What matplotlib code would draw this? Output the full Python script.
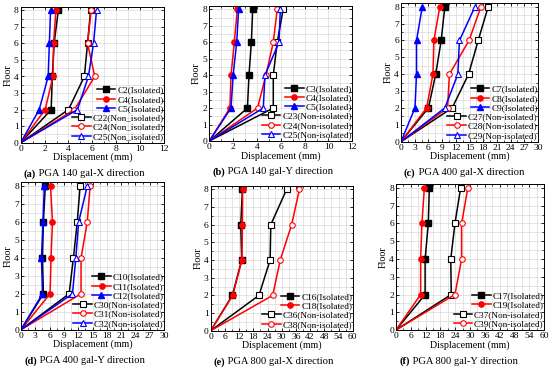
import matplotlib
matplotlib.use('Agg')
import matplotlib.pyplot as plt
from matplotlib.ticker import MultipleLocator

plt.rcParams['font.family'] = ['Liberation Serif', 'DejaVu Serif']

floors = [0, 2, 4, 6, 8]

# (a) PGA 140 gal-X
a_C2 = [0, 2.55, 2.65, 2.8, 3.15]
a_C4 = [0, 2.05, 2.7, 2.75, 2.95]
a_C5 = [0, 1.55, 2.3, 2.4, 2.5]
a_C22 = [0, 4.0, 5.33, 5.6, 5.85]
a_C24 = [0, 4.5, 6.2, 5.6, 5.9]
a_C25 = [0, 4.75, 5.67, 6.1, 6.35]

# (b) PGA 140 gal-Y
b_C3 = [0, 3.2, 3.33, 3.53, 3.64]
b_C4 = [0, 1.73, 1.82, 2.1, 2.35]
b_C5 = [0, 1.82, 2.0, 2.3, 2.46]
b_C23 = [0, 5.37, 5.37, 5.7, 6.2]
b_C24 = [0, 4.05, 4.75, 5.37, 5.7]
b_C25 = [0, 4.53, 4.67, 5.85, 5.96]

# (c) PGA 400 gal-X
c_C7 = [0, 6.0, 7.6, 8.8, 9.6]
c_C8 = [0, 5.6, 7.0, 7.2, 8.5]
c_C9 = [0, 3.06, 3.4, 3.4, 4.66]
c_C27 = [0, 11.2, 14.8, 16.9, 19.1]
c_C28 = [0, 10.2, 10.6, 14.9, 17.5]
c_C29 = [0, 9.6, 12.45, 12.8, 16.2]

# (d) PGA 400 gal-Y
d_C10 = [0, 4.7, 4.5, 4.7, 5.1]
d_C11 = [0, 6.1, 6.3, 6.6, 6.2]
d_C12 = [0, 4.5, 4.3, 4.6, 4.9]
d_C30 = [0, 10.1, 11.0, 11.8, 12.4]
d_C31 = [0, 12.6, 12.6, 13.9, 14.5]
d_C32 = [0, 10.8, 11.5, 12.1, 13.9]

# (e) PGA 800 gal-X
e_C16 = [0, 9.15, 13.1, 12.7, 13.4]
e_C18 = [0, 9.3, 13.2, 13.4, 13.5]
e_C36 = [0, 20.4, 25.1, 25.4, 32.1]
e_C38 = [0, 26.2, 29.4, 34.2, 37.5]

# (f) PGA 800 gal-Y
f_C17 = [0, 11.8, 11.8, 13.1, 13.5]
f_C19 = [0, 10.0, 10.0, 10.5, 11.5]
f_C37 = [0, 22.4, 22.2, 23.9, 26.2]
f_C39 = [0, 23.9, 26.6, 26.6, 29.1]

panels = [
    ('(a)', ' PGA 140 gal-X direction', 12, 2,
     [('C2(Isolated)', a_C2), ('C4(Isolated)', a_C4), ('C5(Isolated)', a_C5)],
     [('C22(Non_isolated)', a_C22), ('C24(Non_isolated)', a_C24), ('C25(Non_isolated)', a_C25)]),
    ('(b)', ' PGA 140 gal-Y direction', 12, 2,
     [('C3(Isolated)', b_C3), ('C4(Isolated)', b_C4), ('C5(Isolated)', b_C5)],
     [('C23(Non-isolated)', b_C23), ('C24(Non-isolated)', b_C24), ('C25(Non-isolated)', b_C25)]),
    ('(c)', ' PGA 400 gal-X direction', 30, 3,
     [('C7(Isolated)', c_C7), ('C8(Isolated)', c_C8), ('C9(Isolated)', c_C9)],
     [('C27(Non-isolated)', c_C27), ('C28(Non-isolated)', c_C28), ('C29(Non-isolated)', c_C29)]),
    ('(d)', ' PGA 400 gal-Y direction', 30, 3,
     [('C10(Isolated)', d_C10), ('C11(Isolated)', d_C11), ('C12(Isolated)', d_C12)],
     [('C30(Non-isolated)', d_C30), ('C31(Non-isolated)', d_C31), ('C32(Non-isolated)', d_C32)]),
    ('(e)', ' PGA 800 gal-X direction', 60, 6,
     [('C16(Isolated)', e_C16), ('C18(Isolated)', e_C18)],
     [('C36(Non-isolated)', e_C36), ('C38(Non-isolated)', e_C38)]),
    ('(f)', ' PGA 800 gal-Y direction', 60, 6,
     [('C17(Isolated)', f_C17), ('C19(Isolated)', f_C19)],
     [('C37(Non-isolated)', f_C37), ('C39(Non-isolated)', f_C39)]),
]

# pixel boxes: left, right, y of floor 8, y of floor 0
boxes = [
    (20.7, 164.0, 10.3, 142.7),
    (209.3, 352.3, 9.3, 141.0),
    (401.0, 538.0, 6.7, 141.7),
    (21.0, 164.0, 186.0, 329.7),
    (210.7, 352.7, 189.3, 330.7),
    (396.0, 544.0, 188.0, 330.0),
]

colors = ['black', 'red', 'blue']
markers = ['s', 'o', '^']
ymax = 8.2

W, H = 550, 370
fig = plt.figure(figsize=(W / 100, H / 100), dpi=100)

for (tag, cap, xmax, xstep, iso, non), (l, r, y8, y0) in zip(panels, boxes):
    per = (y0 - y8) / 8.0
    top = y0 - ymax * per
    ax = fig.add_axes([l / W, 1 - y0 / H, (r - l) / W, (y0 - top) / H])

    for i, (lab, vals) in enumerate(iso):
        ax.plot(vals, floors, color=colors[i], lw=1.1, marker=markers[i],
                ms=3.8, markevery=[1, 2, 3, 4], label=lab)
    for i, (lab, vals) in enumerate(non):
        ax.plot(vals, floors, color=colors[i], lw=1.1, marker=markers[i],
                ms=4.0, mfc='white', mew=0.8, markevery=[1, 2, 3, 4], label=lab)

    ax.set_xlim(0, xmax)
    ax.set_ylim(0, ymax)
    ax.xaxis.set_major_locator(MultipleLocator(xstep))
    ax.xaxis.set_minor_locator(MultipleLocator(xstep / 2))
    ax.yaxis.set_major_locator(MultipleLocator(1))
    ax.yaxis.set_minor_locator(MultipleLocator(0.5))
    ax.grid(True, which='both', color='#d9d9d9', lw=0.5)
    ax.set_axisbelow(True)
    ax.tick_params(which='both', direction='in', top=True, right=True,
                   labelsize=6.8, pad=1.5)
    ax.tick_params(which='major', length=2.5, width=0.6)
    ax.tick_params(which='minor', length=1.3, width=0.5)
    for s in ax.spines.values():
        s.set_linewidth(0.7)
    ax.set_xlabel('Displacement (mm)', fontsize=7.2, labelpad=0)
    ax.set_ylabel('Floor', fontsize=7.2, labelpad=1)

    leg = ax.legend(fontsize=6.7, frameon=False, handlelength=2.0, handletextpad=0.2,
                    labelspacing=0.08, borderpad=0.1, borderaxespad=0.1,
                    loc='lower right', bbox_to_anchor=(1.01, 0.0))
    # right-align the entries like the original
    for col in leg._legend_handle_box.get_children():
        col.align = 'right'

    cy = y0 + 31
    t = fig.text((l + 3) / W, 1 - cy / H, tag, fontsize=7.6, fontweight='bold',
                 ha='left', va='center')
    fig.add_artist(plt.Annotation(cap, xy=(1, 0.5), xycoords=t, va='center',
                                  ha='left', fontsize=7.6))

fig.savefig('out.png', dpi=100)
